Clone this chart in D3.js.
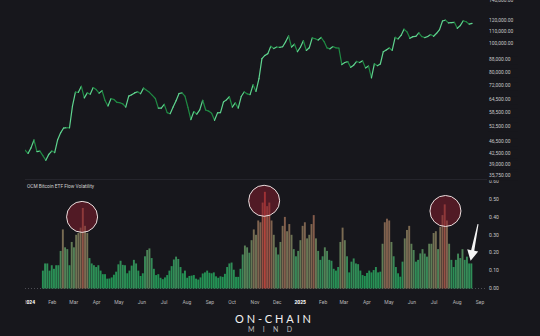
<!DOCTYPE html>
<html>
<head>
<meta charset="utf-8">
<script src="https://cdn.jsdelivr.net/npm/d3@7"></script>
<style>
  html, body { margin: 0; padding: 0; background: #17171c; overflow: hidden; }
  svg { display: block; }
</style>
</head>
<body>
<svg id="chart" width="540" height="336"></svg>
<script>
// ---- BTC price (close, USD), one value every 4 days ----
const priceStart = "2023-12-27";
const priceStepDays = 4;
const priceClose = [
  43.4, 42.3, 44.2, 47.0, 42.9, 43.1, 41.6, 40.1, 42.0, 43.1,
  42.6, 47.1, 49.7, 51.6, 51.8, 51.7, 61.2, 68.3, 68.2, 71.5,
  65.3, 67.9, 67.2, 70.8, 69.7, 67.8, 69.1, 64.0, 61.3, 64.9,
  64.5, 63.1, 62.9, 62.3, 60.8, 66.2, 66.9, 67.9, 68.5, 67.5,
  70.5, 69.3, 68.2, 66.6, 65.0, 60.3, 60.3, 62.1, 58.2, 57.7,
  60.8, 63.9, 67.6, 67.9, 66.2, 60.7, 55.1, 58.7, 57.5, 59.5,
  64.1, 59.4, 58.9, 57.9, 54.8, 58.1, 58.2, 63.2, 64.3, 65.9,
  60.8, 62.8, 60.3, 66.0, 68.4, 67.4, 67.0, 72.3, 68.7, 75.9,
  88.7, 91.0, 92.3, 97.7, 96.0, 97.2, 96.9, 97.4, 101.2, 106.0,
  97.2, 99.3, 93.7, 97.0, 102.1, 94.6, 96.6, 104.4, 103.7, 102.6,
  104.7, 101.4, 96.5, 95.8, 97.5, 96.6, 96.3, 84.7, 86.1, 86.7,
  82.9, 84.3, 86.8, 86.1, 87.2, 82.5, 83.8, 76.3, 85.3, 84.0,
  85.1, 93.7, 95.0, 96.5, 94.7, 104.8, 103.5, 106.4, 111.7, 109.4,
  104.0, 105.4, 105.6, 108.6, 105.5, 104.6, 105.5, 107.1, 105.7, 108.2,
  111.3, 119.1, 119.9, 117.4, 117.6, 117.9, 112.5, 114.9, 119.3, 118.4,
  116.2, 116.9
]; // thousands

// ---- OCM Bitcoin ETF flow volatility, one value every 3 days ----
const volStart = "2024-01-20";
const volStepDays = 3;
const flowVolatility = [
  0.10, 0.14, 0.14, 0.10, 0.13, 0.11, 0.13, 0.13, 0.21, 0.33,
  0.23, 0.22, 0.13, 0.26, 0.23, 0.30, 0.31, 0.34, 0.45, 0.35,
  0.31, 0.17, 0.14, 0.13, 0.12, 0.13, 0.10, 0.08, 0.08, 0.055,
  0.056, 0.062, 0.077, 0.094, 0.135, 0.155, 0.132, 0.13, 0.085, 0.10,
  0.128, 0.16, 0.14, 0.10, 0.07, 0.085, 0.18, 0.215, 0.224, 0.17,
  0.11, 0.075, 0.08, 0.06, 0.052, 0.062, 0.075, 0.10, 0.125, 0.162,
  0.178, 0.165, 0.12, 0.085, 0.10, 0.06, 0.07, 0.072, 0.075, 0.055,
  0.05, 0.062, 0.084, 0.09, 0.10, 0.088, 0.085, 0.09, 0.068, 0.06,
  0.068, 0.065, 0.082, 0.12, 0.14, 0.145, 0.105, 0.065, 0.065, 0.11,
  0.19, 0.24, 0.23, 0.20, 0.27, 0.33, 0.30, 0.38, 0.37, 0.48,
  0.54, 0.46, 0.48, 0.38, 0.30, 0.23, 0.19, 0.26, 0.35, 0.40,
  0.32, 0.36, 0.30, 0.22, 0.18, 0.21, 0.27, 0.35, 0.37, 0.28,
  0.30, 0.36, 0.41, 0.28, 0.21, 0.16, 0.18, 0.23, 0.21, 0.16,
  0.155, 0.11, 0.10, 0.12, 0.26, 0.34, 0.27, 0.18, 0.09, 0.15,
  0.168, 0.14, 0.136, 0.10, 0.075, 0.07, 0.087, 0.10, 0.09, 0.103,
  0.12, 0.09, 0.094, 0.25, 0.37, 0.39, 0.38, 0.26, 0.18, 0.12,
  0.085, 0.066, 0.15, 0.28, 0.327, 0.35, 0.25, 0.215, 0.15, 0.16,
  0.196, 0.22, 0.195, 0.178, 0.25, 0.25, 0.31, 0.32, 0.22, 0.345,
  0.41, 0.47, 0.38, 0.25, 0.16, 0.12, 0.16, 0.195, 0.17, 0.22,
  0.16, 0.178, 0.14, 0.14
];

// ---- axis ticks ----
const priceTicks = [140000, 120000, 110000, 100000, 88000, 80000, 72000,
                    64500, 58500, 52500, 46500, 42500, 39000, 35750];
const volTicks = [0, 0.1, 0.2, 0.3, 0.4, 0.5, 0.6];
const monthNames = ["Jan","Feb","Mar","Apr","May","Jun","Jul","Aug","Sep","Oct","Nov","Dec"];

// ---- annotations: highlighted spikes and the latest reading ----
const highlightDates = ["2024-03-13", "2024-11-14", "2025-07-17"];
const highlightValues = [0.40, 0.49, 0.433];
const arrowFrom = ["2025-08-30", 0.36];
const arrowTo = ["2025-08-20", 0.155];

const bg = "#17171c";
const svg = d3.select("#chart");
svg.append("rect").attr("width", 540).attr("height", 336).attr("fill", bg);

const parse = d3.utcParse("%Y-%m-%d");
const x = d3.scaleUtc()
  .domain([parse("2024-01-01"), parse("2025-09-01")])
  .range([28.8, 479.5]);

const yPrice = d3.scaleLog().domain([35750, 140000]).range([175, 0.3]);
const yVol = d3.scaleLinear().domain([0, 0.6]).range([288.5, 181.1]);

const defs = svg.append("defs");
defs.append("clipPath").attr("id", "plotClip")
  .append("rect").attr("x", 25).attr("y", 0).attr("width", 470).attr("height", 336);
// axis group is translated, so this rect is in the group's own coordinates
defs.append("clipPath").attr("id", "axisClip")
  .append("rect").attr("x", 25.6).attr("y", -10).attr("width", 470).attr("height", 30);

// ---- price panel ----
const p0 = parse(priceStart);
const priceData = priceClose.map((v, i) => ({
  date: d3.utcDay.offset(p0, i * priceStepDays),
  value: v * 1000
}));
const priceG = svg.append("g").attr("clip-path", "url(#plotClip)");
priceG.selectAll("line.seg")
  .data(d3.pairs(priceData))
  .join("line")
  .attr("class", "seg")
  .attr("x1", d => x(d[0].date)).attr("y1", d => yPrice(d[0].value))
  .attr("x2", d => x(d[1].date)).attr("y2", d => yPrice(d[1].value))
  .attr("stroke", d => d[1].value >= d[0].value ? "#5fd48f" : "#1f8a43")
  .attr("stroke-width", 1.2)
  .attr("stroke-linecap", "round");

// panel separator
svg.append("line")
  .attr("x1", 25).attr("x2", 487).attr("y1", 179.5).attr("y2", 179.5)
  .attr("stroke", "#2a2a31").attr("stroke-width", 0.8);

// ---- volatility panel ----
svg.append("text")
  .attr("x", 27).attr("y", 187.6)
  .attr("font-family", "Roboto, sans-serif").attr("font-size", 4.8)
  .attr("fill", "#d0d0d0")
  .text("OCM Bitcoin ETF Flow Volatility");

// zero line
svg.append("line")
  .attr("x1", 25).attr("x2", 486).attr("y1", yVol(0)).attr("y2", yVol(0))
  .attr("stroke", "#5c5c63").attr("stroke-width", 0.8)
  .attr("stroke-dasharray", "1,2");

const v0 = parse(volStart);
const volData = flowVolatility.map((v, i) => ({
  date: d3.utcDay.offset(v0, i * volStepDays),
  value: v
}));
const barColor = d3.scaleLinear()
  .domain([0.08, 0.17, 0.25, 0.33, 0.43, 0.54])
  .range(["#25a05b", "#38985f", "#67895d", "#84765a", "#94604f", "#c44a40"])
  .clamp(true);
const barW = 1.9;
svg.append("g").selectAll("rect")
  .data(volData)
  .join("rect")
  .attr("x", d => x(d.date) - barW / 2)
  .attr("y", d => yVol(d.value))
  .attr("width", barW)
  .attr("height", d => yVol(0) - yVol(d.value))
  .attr("fill", d => barColor(d.value))
  .attr("opacity", 0.9);

// highlight circles
svg.append("g").selectAll("circle")
  .data(highlightDates.map((d, i) => ({ date: parse(d), value: highlightValues[i] })))
  .join("circle")
  .attr("cx", d => x(d.date))
  .attr("cy", d => yVol(d.value))
  .attr("r", 15.5)
  .attr("fill", "rgba(140,30,45,0.5)")
  .attr("stroke", "#eadede")
  .attr("stroke-width", 1);

// arrow pointing at the latest reading
{
  const ax1 = x(parse(arrowFrom[0])), ay1 = yVol(arrowFrom[1]);
  const ax2 = x(parse(arrowTo[0])), ay2 = yVol(arrowTo[1]);
  const ang = Math.atan2(ay2 - ay1, ax2 - ax1);
  const len = Math.hypot(ax2 - ax1, ay2 - ay1);
  const headL = 10.5, headW = 5.6;
  const g = svg.append("g")
    .attr("transform", `translate(${ax1},${ay1}) rotate(${ang * 180 / Math.PI})`);
  g.append("path")
    .attr("d", `M0,-0.5 L${len - headL},-1.6 L${len - headL},${-headW} L${len},0 L${len - headL},${headW} L${len - headL},1.6 L0,0.5 Z`)
    .attr("fill", "#f4f4f4");
}

// ---- right-hand axis labels ----
const fmtPrice = d3.format(",.2f");
const fmtVol = d3.format(".2f");
const labelX = 489;

svg.append("g").selectAll("text")
  .data(volTicks)
  .join("text")
  .attr("x", labelX).attr("y", d => yVol(d)).attr("dy", "0.35em")
  .attr("font-family", "Roboto, sans-serif").attr("font-size", 5)
  .attr("fill", "#c8c8c8")
  .text(d => fmtVol(d));

const pLab = svg.append("g").selectAll("g")
  .data(priceTicks)
  .join("g")
  .attr("transform", d => `translate(${labelX},${yPrice(d)})`);
pLab.append("rect")
  .attr("x", -1).attr("y", -3.2).attr("width", 30).attr("height", 8.4)
  .attr("fill", bg);
pLab.append("text")
  .attr("dy", "0.35em")
  .attr("font-family", "Roboto, sans-serif").attr("font-size", 4.9)
  .attr("fill", "#c8c8c8")
  .text(d => fmtPrice(d));

// ---- time axis ----
const monthTicks = d3.utcMonth.range(parse("2024-01-01"), parse("2025-09-02"));
const xAxis = d3.axisBottom(x)
  .tickValues(monthTicks)
  .tickSize(0)
  .tickPadding(0)
  .tickFormat(d => d.getUTCMonth() === 0 ? String(d.getUTCFullYear()) : monthNames[d.getUTCMonth()]);
const axG = svg.append("g")
  .attr("transform", "translate(0,300)")
  .attr("clip-path", "url(#axisClip)")
  .call(xAxis);
axG.select(".domain").remove();
axG.selectAll("text")
  .attr("font-family", "Roboto, sans-serif")
  .attr("font-size", 5)
  .attr("fill", d => d.getUTCMonth() === 0 ? "#ffffff" : "#b5b5b5")
  .attr("font-weight", d => d.getUTCMonth() === 0 ? "bold" : "normal");

// ---- wordmark ----
svg.append("text")
  .attr("x", 273).attr("y", 323.3)
  .attr("text-anchor", "middle")
  .attr("font-family", "Lato, 'Open Sans', sans-serif").attr("font-size", 11)
  .attr("fill", "#f2f2f2")
  .attr("textLength", 76).attr("lengthAdjust", "spacing")
  .text("ON-CHAIN");
svg.append("text")
  .attr("x", 270).attr("y", 332)
  .attr("text-anchor", "middle")
  .attr("font-family", "Lato, 'Open Sans', sans-serif").attr("font-size", 7)
  .attr("fill", "#bdbdbd")
  .attr("textLength", 44).attr("lengthAdjust", "spacing")
  .text("MIND");
</script>
</body>
</html>
